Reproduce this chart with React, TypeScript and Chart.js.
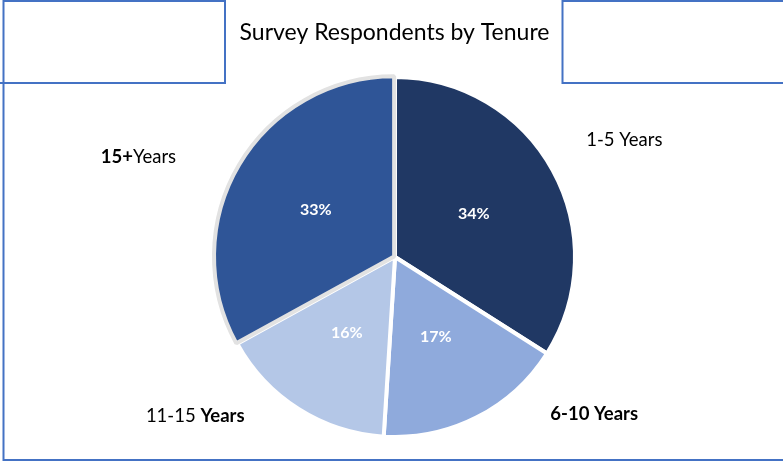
import React, { useEffect, useRef } from "react";
import { Chart, registerables } from "chart.js";

Chart.register(...registerables);

const categories = ["1-5 Years", "6-10 Years", "11-15 Years", "15+ Years"];
const shares = [34, 17, 16, 33];
const percentLabels = ["34%", "17%", "16%", "33%"];
const sliceColors = ["#203864", "#8faadc", "#b4c7e7", "#2f5597"];
const sliceBorders = ["#ffffff", "#ffffff", "#ffffff", "#e2e2e2"];
const sliceOffsets = [0, 0, 0, 4];

// rich outside labels: [text, bold]
const outsideLabels: [string, boolean][][] = [
  [["1-5 Years", false]],
  [["6-10 Years", true]],
  [["11-15 ", false], ["Years", true]],
  [["15+", true], ["Years", false]],
];
// placement (degrees from +x axis, distance as a multiple of the radius)
const outsideAngles = [-27, 38.3, 141.4, 201.3];
const outsideDist = [1.43, 1.41, 1.42, 1.53];

const titleText = "Survey Respondents by Tenure";
const FONT = "Lato, 'Open Sans', sans-serif";
const FRAME = "#4472c4";

const framePlugin = {
  id: "frameAndTitle",
  beforeDraw(chart: any) {
    const ctx = chart.ctx;
    ctx.save();
    ctx.strokeStyle = FRAME;
    ctx.lineWidth = 2;
    ctx.beginPath();
    ctx.moveTo(0, 83);
    ctx.lineTo(225, 83);
    ctx.lineTo(225, 1);
    ctx.lineTo(3.5, 1);
    ctx.moveTo(3.5, 0);
    ctx.lineTo(3.5, 461);
    ctx.moveTo(3.5, 460);
    ctx.lineTo(783, 460);
    ctx.moveTo(783, 83);
    ctx.lineTo(562.5, 83);
    ctx.lineTo(562.5, 1);
    ctx.lineTo(783, 1);
    ctx.stroke();
    ctx.fillStyle = "#000000";
    ctx.font = `23px ${FONT}`;
    ctx.textAlign = "center";
    ctx.textBaseline = "middle";
    ctx.fillText(titleText, 394.5, 33);
    ctx.restore();
  },
};

const labelPlugin = {
  id: "sliceLabels",
  afterDatasetsDraw(chart: any) {
    const ctx = chart.ctx;
    const meta = chart.getDatasetMeta(0);
    ctx.save();
    meta.data.forEach((arc: any, i: number) => {
      const p = arc.tooltipPosition();
      ctx.fillStyle = "#ffffff";
      ctx.font = `bold 16px ${FONT}`;
      ctx.textAlign = "center";
      ctx.textBaseline = "middle";
      ctx.fillText(percentLabels[i], p.x, p.y);

      const r = arc.outerRadius * outsideDist[i];
      const a = (outsideAngles[i] * Math.PI) / 180;
      const cx = arc.x + r * Math.cos(a);
      const cy = arc.y + r * Math.sin(a);
      const parts = outsideLabels[i];
      const widths = parts.map(([t, b]) => {
        ctx.font = `${b ? "bold " : ""}18.5px ${FONT}`;
        return ctx.measureText(t).width;
      });
      const total = widths.reduce((s, w) => s + w, 0);
      let x = cx - total / 2;
      ctx.fillStyle = "#000000";
      ctx.textAlign = "left";
      parts.forEach(([t, b], k) => {
        ctx.font = `${b ? "bold " : ""}18.5px ${FONT}`;
        ctx.fillText(t, x, cy);
        x += widths[k];
      });
    });
    ctx.restore();
  },
};

export default function App() {
  const ref = useRef<HTMLCanvasElement>(null);
  useEffect(() => {
    if (!ref.current) return;
    const chart = new Chart(ref.current, {
      type: "pie",
      data: {
        labels: categories,
        datasets: [
          {
            data: shares,
            backgroundColor: sliceColors,
            borderColor: sliceBorders,
            borderWidth: 4,
            offset: sliceOffsets,
          },
        ],
      },
      options: {
        animation: false,
        responsive: true,
        maintainAspectRatio: false,
        radius: 180,
        layout: { padding: { top: 77, bottom: 25, left: 7, right: 0 } },
        plugins: {
          legend: { display: false },
          tooltip: { enabled: false },
          title: { display: false },
        },
      },
      plugins: [framePlugin, labelPlugin],
    });
    return () => chart.destroy();
  }, []);
  return (
    <div style={{ position: "absolute", left: 0, top: 0, width: 783, height: 462, background: "#fff" }}>
      <canvas ref={ref} />
    </div>
  );
}
